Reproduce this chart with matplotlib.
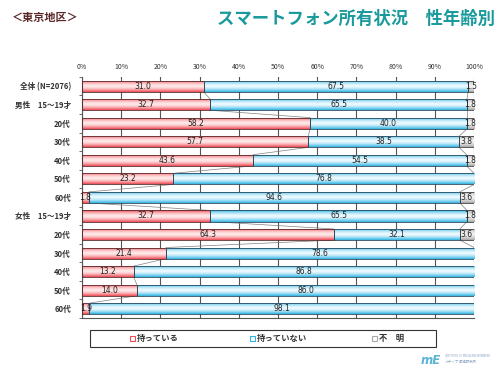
import numpy as np
import matplotlib
matplotlib.use("Agg")
import matplotlib.pyplot as plt
from matplotlib.colors import to_rgb
from matplotlib.patches import Rectangle

plt.rcParams['font.family'] = ['Noto Sans CJK JP', 'DejaVu Sans']

# data
categories = ["全体 (N=2076)", "男性　15～19才", "20代", "30代", "40代", "50代", "60代",
              "女性　15～19才", "20代", "30代", "40代", "50代", "60代"]
own = [31.0, 32.7, 58.2, 57.7, 43.6, 23.2, 1.8, 32.7, 64.3, 21.4, 13.2, 14.0, 1.9]
not_own = [67.5, 65.5, 40.0, 38.5, 54.5, 76.8, 94.6, 65.5, 32.1, 78.6, 86.8, 86.0, 98.1]
unknown = [1.5, 1.8, 1.8, 3.8, 1.8, 0.0, 3.6, 1.8, 3.6, 0.0, 0.0, 0.0, 0.0]
series_names = ["持っている", "持っていない", "不　明"]

edge_cols = ["#ee4a55", "#2eb4e2", "#a8a8a8"]
mid_cols = ["#ffeaea", "#eefaff", "#f2f2f2"]
outline_cols = ["#5a2a2a", "#2a4a60", "#404040"]

fig = plt.figure(figsize=(5, 3.75), dpi=100)
ax = fig.add_axes([0.164, 0.152, 0.784, 0.643])

y = np.arange(len(categories))
h = 0.6
own = np.array(own)
not_own = np.array(not_own)
unknown = np.array(unknown)
lefts = [np.zeros(len(y)), own, own + not_own]
series = [own, not_own, unknown]

# vertical gradient (edge - light centre - edge)
t = np.linspace(0, 1, 40)
w = np.abs(2 * t - 1) ** 1.6


def gradient(c1, c2):
    a, b = np.array(to_rgb(c1)), np.array(to_rgb(c2))
    return (w[:, None] * a + (1 - w[:, None]) * b)[:, None, :]


for vals, left, ec, mc, oc in zip(series, lefts, edge_cols, mid_cols, outline_cols):
    bars = ax.barh(y, vals, left=left, height=h, color="none",
                   edgecolor=oc, linewidth=0.6, zorder=3)
    img = gradient(ec, mc)
    for p in bars.patches:
        if p.get_width() <= 0:
            continue
        x0, y0 = p.get_x(), p.get_y()
        im = ax.imshow(img, extent=[x0, x0 + p.get_width(), y0 + h, y0],
                       aspect="auto", zorder=2, interpolation="bilinear")
        im.set_clip_path(p)

# data labels
for vals, left in zip(series, lefts):
    for yi, v, l in zip(y, vals, left):
        if v > 0:
            ax.text(l + v / 2, yi, f"{v:.1f}", ha="center", va="center",
                    fontsize=5.5, color="#222222", zorder=5, family="DejaVu Sans")

# series lines between bars
for bound in [own, own + not_own]:
    for i in range(len(y) - 1):
        ax.plot([bound[i], bound[i + 1]], [y[i] + h / 2, y[i + 1] - h / 2],
                color="#808080", lw=0.5, zorder=1)

ax.set_xlim(0, 100)
ax.set_ylim(12.5, -0.5)
ax.set_xticks(np.arange(0, 101, 10))
ax.set_xticklabels([f"{v}%" for v in range(0, 101, 10)], fontsize=5, color="#333333")
ax.xaxis.tick_top()
ax.tick_params(axis="x", length=0, pad=4)
ax.grid(axis="x", color="#555555", lw=0.8, zorder=0)
ax.set_axisbelow(True)
ax.set_yticks(y)
ax.set_yticklabels(categories, fontsize=5.5, fontweight="bold", color="#333333")
ax.tick_params(axis="y", length=0, pad=8)
ax.set_yticks(np.arange(-0.5, 12.6, 1), minor=True)
ax.tick_params(axis="y", which="minor", length=2, color="#555555")
for s in ["top", "right"]:
    ax.spines[s].set_visible(False)
ax.spines["left"].set_color("#555555")
ax.spines["bottom"].set_color("#555555")

# titles
fig.text(0.024, 0.953, "＜東京地区＞", fontsize=8, fontweight="bold", color="#5a2828",
         va="center")
fig.text(0.99, 0.95, "スマートフォン所有状況　性年齢別", fontsize=12.5, fontweight="bold",
         color="#1a9a9c", ha="right", va="center")

# legend box
fig.add_artist(Rectangle((0.18, 0.075), 0.692, 0.045, transform=fig.transFigure,
                         fill=False, edgecolor="#333333", lw=0.8))
for xpos, name, ec in zip([0.26, 0.50, 0.744], series_names, edge_cols):
    fig.add_artist(Rectangle((xpos, 0.092), 0.009, 0.012, transform=fig.transFigure,
                             facecolor="white", edgecolor=ec, lw=0.8))
    fig.text(xpos + 0.014, 0.098, name, fontsize=6, fontweight="bold", color="#333333",
             va="center")

# logo
fig.text(0.842, 0.028, "mE", fontsize=8.5, style="italic", color="#5ab4d6",
         family="DejaVu Sans", fontweight="bold")
fig.text(0.89, 0.047, "INSTITUTE OF MEDIA ENVIRONMENT", fontsize=1.8, color="#8aa0c0",
         family="DejaVu Sans")
fig.text(0.89, 0.032, "メディア環境研究所", fontsize=2.6, color="#8aa0c0")

fig.savefig("out.png", dpi=100)
